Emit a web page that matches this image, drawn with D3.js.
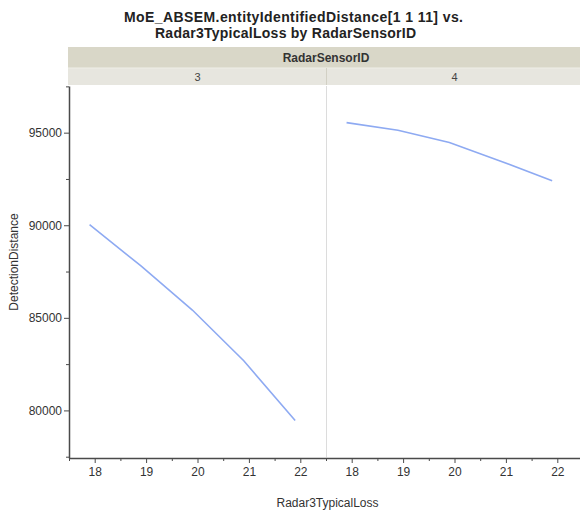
<!DOCTYPE html>
<html>
<head>
<meta charset="utf-8">
<script src="https://cdn.jsdelivr.net/npm/d3@7"></script>
<style>
  body { margin: 0; background: #fff; }
  svg { display: block; font-family: "Liberation Sans", Arial, sans-serif; }
</style>
</head>
<body>
<div id="chart"></div>
<script>
// --- Data ---
const panelIds = ["3", "4"];
const typicalLoss = [17.9, 18.9, 19.9, 20.9, 21.9];
const distanceSensor3 = [90030, 87800, 85420, 82680, 79450];
const distanceSensor4 = [95540, 95130, 94470, 93460, 92400];
const xTicks = [18, 19, 20, 21, 22];
const yTicks = [80000, 85000, 90000, 95000];

const seriesByPanel = [distanceSensor3, distanceSensor4];

const width = 580, height = 510;
const plotLeft = 69, plotTop = 86, plotBottom = 458;
const panelWidth = 257;
const axisColor = "#4a4a4a";
const lineColor = "#8eaaf2";

const svg = d3.select("#chart").append("svg")
    .attr("width", width)
    .attr("height", height);

// title (reference glyphs are wider than Liberation, so spread to match)
const title = svg.append("text")
    .attr("text-anchor", "middle")
    .attr("font-size", 14)
    .attr("font-weight", "bold")
    .attr("fill", "#222");
title.append("tspan").attr("x", 293.5).attr("y", 22)
    .attr("textLength", 339).attr("lengthAdjust", "spacing")
    .text("MoE_ABSEM.entityIdentifiedDistance[1 1 11] vs.");
title.append("tspan").attr("x", 285.5).attr("y", 37.5)
    .attr("textLength", 261).attr("lengthAdjust", "spacing")
    .text("Radar3TypicalLoss by RadarSensorID");

// --- Scales ---
const y = d3.scaleLinear().domain([77430, 97520]).range([plotBottom, plotTop]);
const panelX = d3.scaleBand().domain(panelIds)
    .range([plotLeft, plotLeft + panelWidth * 2]).paddingInner(0).paddingOuter(0);

// header strips
svg.append("rect")
    .attr("x", plotLeft - 1).attr("y", 47)
    .attr("width", width - plotLeft + 1).attr("height", 21)
    .attr("fill", "#d9d7c8");
svg.append("rect")
    .attr("x", plotLeft - 1).attr("y", 68)
    .attr("width", width - plotLeft + 1).attr("height", 17)
    .attr("fill", "#e7e6df");
svg.append("line")
    .attr("x1", plotLeft - 1).attr("x2", width)
    .attr("y1", 68).attr("y2", 68)
    .attr("stroke", "#efeee8");
svg.append("text")
    .attr("x", plotLeft + panelWidth).attr("y", 62)
    .attr("text-anchor", "middle")
    .attr("font-size", 12).attr("font-weight", "bold")
    .attr("fill", "#333")
    .text("RadarSensorID");

panelIds.forEach((id, i) => {
    const x0 = panelX(id);
    const x = d3.scaleLinear().domain([17.5, 22.5]).range([x0, x0 + panelWidth]);

    svg.append("text")
        .attr("x", x0 + panelWidth / 2).attr("y", 81)
        .attr("text-anchor", "middle")
        .attr("font-size", 11)
        .attr("fill", "#444")
        .text(id);

    if (i > 0) {
        // panel divider
        svg.append("line")
            .attr("x1", x0 + 0.5).attr("x2", x0 + 0.5)
            .attr("y1", 68).attr("y2", 85)
            .attr("stroke", "#d2d0c4");
        svg.append("line")
            .attr("x1", x0 + 0.5).attr("x2", x0 + 0.5)
            .attr("y1", plotTop).attr("y2", plotBottom)
            .attr("stroke", "#dcdcdc");
    }

    // minor x ticks
    const minorAxis = d3.axisBottom(x)
        .tickValues([17.5, 18.5, 19.5, 20.5, 21.5, 22.5])
        .tickSize(3).tickSizeOuter(0).tickFormat("");
    svg.append("g")
        .attr("transform", `translate(0,${plotBottom})`)
        .call(minorAxis)
        .call(g => g.select(".domain").remove())
        .call(g => g.selectAll("line").attr("stroke", axisColor));

    // major x ticks
    const xAxis = d3.axisBottom(x).tickValues(xTicks).tickSize(5).tickSizeOuter(0)
        .tickPadding(4).tickFormat(d3.format("d"));
    svg.append("g")
        .attr("transform", `translate(0,${plotBottom})`)
        .call(xAxis)
        .call(g => g.select(".domain").attr("stroke", axisColor).attr("stroke-width", 1.5))
        .call(g => g.selectAll("line").attr("stroke", axisColor))
        .call(g => g.selectAll("text").attr("font-size", 12).attr("fill", "#333")
            .attr("font-family", "Liberation Sans, Arial, sans-serif"));

    // data line
    const line = d3.line()
        .x((d, j) => x(typicalLoss[j]))
        .y(d => y(d));
    svg.append("path")
        .datum(seriesByPanel[i])
        .attr("fill", "none")
        .attr("stroke", lineColor)
        .attr("stroke-width", 1.6)
        .attr("d", line);
});

// y axis
const yMinor = d3.axisLeft(y)
    .tickValues([77500, 82500, 87500, 92500, 97500])
    .tickSize(3).tickSizeOuter(0).tickFormat("");
svg.append("g")
    .attr("transform", `translate(${plotLeft},0)`)
    .call(yMinor)
    .call(g => g.select(".domain").remove())
    .call(g => g.selectAll("line").attr("stroke", axisColor));

const yAxis = d3.axisLeft(y).tickValues(yTicks).tickSize(5).tickSizeOuter(0)
    .tickPadding(2).tickFormat(d3.format("d"));
svg.append("g")
    .attr("transform", `translate(${plotLeft},0)`)
    .call(yAxis)
    .call(g => g.select(".domain").attr("stroke", axisColor).attr("stroke-width", 1.5))
    .call(g => g.selectAll("line").attr("stroke", axisColor))
    .call(g => g.selectAll("text").attr("font-size", 12).attr("fill", "#333")
        .attr("font-family", "Liberation Sans, Arial, sans-serif"));

// axis labels
svg.append("text")
    .attr("x", 327.5).attr("y", 507)
    .attr("text-anchor", "middle")
    .attr("font-size", 12).attr("fill", "#333")
    .text("Radar3TypicalLoss");

svg.append("text")
    .attr("transform", "translate(18,262) rotate(-90)")
    .attr("text-anchor", "middle")
    .attr("font-size", 12).attr("fill", "#333")
    .text("DetectionDistance");
</script>
</body>
</html>
